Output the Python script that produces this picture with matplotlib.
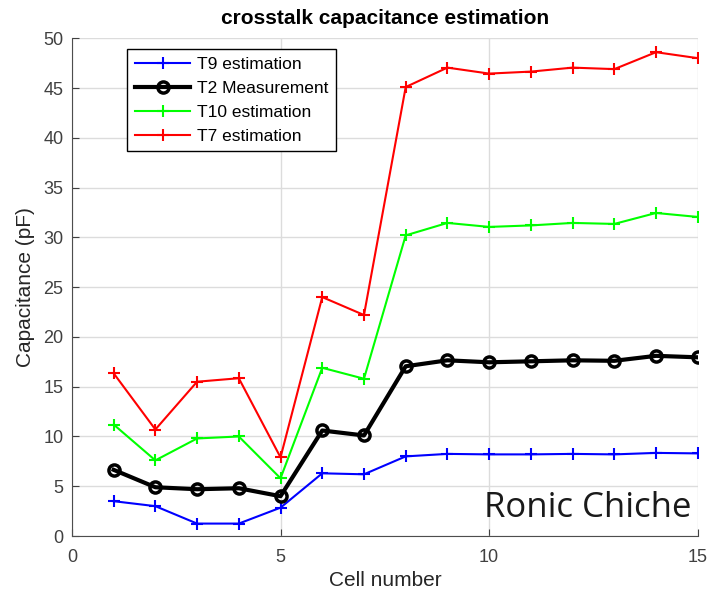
import matplotlib.pyplot as plt

cells = list(range(1, 16))
t9_est = [3.5, 3.0, 1.25, 1.25, 2.85, 6.3, 6.2, 8.0, 8.25, 8.2, 8.2, 8.25, 8.2, 8.35, 8.3]
t2_meas = [6.65, 4.9, 4.7, 4.8, 4.0, 10.6, 10.1, 17.05, 17.65, 17.45, 17.55, 17.65, 17.6, 18.1, 17.95]
t10_est = [11.2, 7.6, 9.8, 10.0, 5.8, 16.9, 15.8, 30.2, 31.45, 31.05, 31.2, 31.45, 31.35, 32.45, 32.05]
t7_est = [16.35, 10.7, 15.5, 15.85, 7.9, 24.0, 22.2, 45.1, 47.05, 46.45, 46.65, 47.05, 46.9, 48.6, 48.0]

plt.rcParams["font.family"] = ["Liberation Sans", "DejaVu Sans"]

fig = plt.figure(figsize=(7.12, 5.94), dpi=100)
ax = fig.add_axes([0.101, 0.0976, 0.879, 0.838])

ax.plot(cells, t9_est, color="#0000ff", marker="+", markersize=9, lw=1.5,
        mew=1.5, label="T9 estimation")
ax.plot(cells, t2_meas, color="black", marker="o", markersize=8, lw=3,
        mew=2.5, mfc="none", label="T2 Measurement")
ax.plot(cells, t10_est, color="#00ff00", marker="+", markersize=9, lw=1.5,
        mew=1.5, label="T10 estimation")
ax.plot(cells, t7_est, color="#ff0000", marker="+", markersize=9, lw=1.5,
        mew=1.5, label="T7 estimation")

# Aesthetics (MATLAB-like)
ax.set_xlim(0, 15)
ax.set_ylim(0, 50)
ax.set_xticks([0, 5, 10, 15])
ax.set_yticks(range(0, 51, 5))
ax.grid(True, color="#dcdcdc", lw=1)
ax.set_axisbelow(True)
for side in ["top", "right"]:
    ax.spines[side].set_visible(False)
for side in ["left", "bottom"]:
    ax.spines[side].set_color("#4d4d4d")
ax.tick_params(colors="#404040", labelsize=13, direction="in", length=5)
ax.tick_params(axis="x", pad=9)
ax.tick_params(axis="y", pad=6)

ax.set_xlabel("Cell number", fontsize=15, color="#262626", labelpad=4)
ax.set_ylabel("Capacitance (pF)", fontsize=15, color="#262626", labelpad=6)
ax.set_title("crosstalk capacitance estimation", fontsize=15,
             fontweight="bold", pad=10)

leg = ax.legend(loc="upper left", bbox_to_anchor=(0.088, 0.978), fontsize=12.5,
                borderaxespad=0, fancybox=False, edgecolor="black",
                framealpha=1, handlelength=3.2, handletextpad=0.4,
                borderpad=0.45, labelspacing=0.5)
leg.get_frame().set_linewidth(1)

ax.text(0.99, 0.022, "Ronic Chiche", transform=ax.transAxes, ha="right",
        va="bottom", fontsize=25, family="Open Sans", color="#1a1a1a")

fig.savefig("out.png", dpi=100)
